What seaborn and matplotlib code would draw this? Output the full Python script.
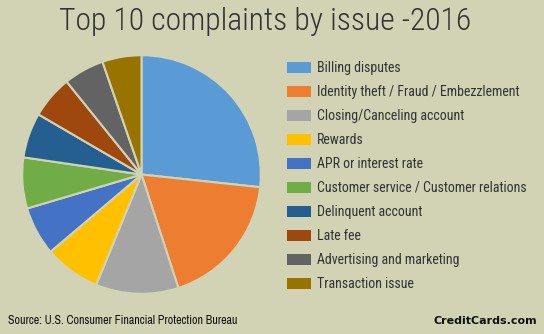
import matplotlib
matplotlib.use("Agg")
import matplotlib.pyplot as plt
import seaborn as sns
from matplotlib.patches import Patch

categories = ["Billing disputes", "Identity theft / Fraud / Embezzlement",
              "Closing/Canceling account", "Rewards", "APR or interest rate",
              "Customer service / Customer relations", "Delinquent account",
              "Late fee", "Advertising and marketing", "Transaction issue"]
shares = [26.7, 18.3, 11.2, 7.6, 6.6, 6.9, 6.1, 5.8, 5.5, 5.3]
colors = ["#5B9BD5", "#ED7D31", "#A5A5A5", "#FFC000", "#4472C4",
          "#70AD47", "#255E91", "#9E480E", "#636363", "#997300"]
title = "Top 10 complaints by issue -2016"
source = "Source: U.S. Consumer Financial Protection Bureau"
brand = "CreditCards.com"

bg = "#D2D3B4"
sns.set_theme(style="white")
plt.rcParams['font.family'] = ['Roboto Condensed', 'DejaVu Sans']

fig = plt.figure(figsize=(5.44, 3.34), dpi=100, facecolor=bg)
ax = fig.add_axes([21/544, 39/334, 241/544, 241/334])
ax.set_facecolor(bg)
pal = sns.color_palette(colors)
ax.pie(shares, colors=pal, startangle=90, counterclock=False, radius=1,
       wedgeprops=dict(edgecolor=bg, linewidth=1.5))
ax.set_xlim(-1.01, 1.01)
ax.set_ylim(-1.01, 1.01)
ax.set_aspect('equal')
ax.axis('off')

fig.text(265/544, 1 - 22/334, title, ha='center', va='center', fontsize=22.8,
         fontweight='light', color='#333333')

handles = [Patch(facecolor=c, edgecolor='none') for c in pal]
fig.legend(handles, categories, loc='upper left', bbox_to_anchor=(287/544, 1 - 61/334),
           frameon=False, fontsize=10, labelspacing=0.72, handlelength=1.73,
           handleheight=0.86, handletextpad=0.42, borderpad=0, borderaxespad=0,
           labelcolor='#333333')

fig.text(8/544, 1 - 321/334, source, ha='left', va='center', fontsize=8.6,
         color='#111111', family=['Archivo Narrow', 'DejaVu Sans'])
fig.text(537/544, 1 - 321/334, brand, ha='right', va='center', fontsize=8, fontweight='bold',
         color='#111111', family=['DejaVu Sans'])

fig.savefig("out.png", dpi=100, facecolor=bg)
